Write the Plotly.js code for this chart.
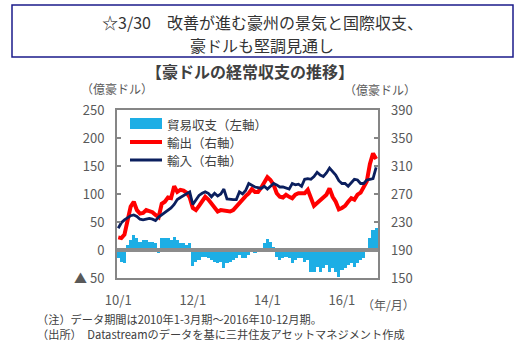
<!DOCTYPE html>
<html>
<head>
<meta charset="utf-8">
<script src="https://cdn.plot.ly/plotly-3.0.1.min.js"></script>
<style>
html,body{margin:0;padding:0;background:#fff;}
#chart{width:520px;height:350px;}
</style>
</head>
<body>
<div id="chart"></div>
<script>
// Monthly data, 2010/1 .. 2016/12 (84 points)
const monthCount = 84;
const monthIndex = Array.from({length: monthCount}, (_, i) => i);

// Trade balance (left axis, 億豪ドル)
const tradeBalance = [
  -15, -22, -24, 9, 18, 27, 21, 15, 18, 17, 15, 15,
  12, -6, 21, 21, 21, 18, 24, 18, 12, 12, 9, 12,
  -29, -21, -18, -12, -13, -15, -18, -21, -24, -21, -33, -24,
  -21, -18, -15, -9, -15, -15, -9, -3, -6, -3, 3, 12,
  19, 15, 6, -12, -18, -15, -12, -15, -24, -18, -15, -15,
  -21, -18, -39, -39, -30, -39, -33, -27, -39, -33, -39, -48,
  -36, -33, -27, -24, -30, -24, -18, -15, -3, 21, 36, 39
];

// Exports (right axis)
const exportsV = [
  208, 207, 212, 235, 252, 259, 247, 242, 243, 247, 246, 244,
  240, 237, 256, 259, 265, 264, 281, 273, 276, 275, 272, 265,
  250, 247, 253, 260, 266, 262, 257, 251, 245, 247, 246, 246,
  245, 247, 252, 257, 264, 267, 271, 277, 273, 273, 279, 287,
  294, 290, 283, 271, 266, 265, 269, 266, 264, 269, 271, 271,
  271, 276, 264, 253, 257, 261, 266, 269, 278, 266, 259, 248,
  250, 253, 259, 264, 262, 269, 272, 280, 288, 313, 328, 320
];

// Imports (right axis)
const importsV = [
  221, 229, 233, 236, 239, 240, 238, 234, 233, 234, 235, 234,
  232, 237, 240, 243, 246, 250, 255, 262, 265, 268, 270, 273,
  255, 262, 268, 271, 273, 271, 266, 271, 267, 270, 277, 263,
  262, 262, 262, 273, 270, 275, 285, 282, 280, 279, 278, 281,
  277, 281, 285, 283, 280, 280, 279, 277, 285, 283, 284, 281,
  291, 292, 291, 295, 301, 297, 295, 300, 307, 302, 297, 289,
  285, 285, 281, 286, 291, 290, 285, 285, 290, 291, 292, 308
];

const xTickVals = [0, 24, 48, 72];
const xTickText = ['10/1', '12/1', '14/1', '16/1'];
const leftTickVals = [-50, 0, 50, 100, 150, 200, 250];
const leftTickText = ['▲ 50', '0', '50', '100', '150', '200', '250'];
const rightTickVals = [150, 190, 230, 270, 310, 350, 390];

const seriesNames = ['貿易収支（左軸）', '輸出（右軸）', '輸入（右軸）'];

// colours
const cBar = '#1DAEE5', cRed = '#FF0000', cNavy = '#0B1F5E', cFrame = '#868686', cText = '#404040';

// plot area in pixels
const L = 117, R = 378, T = 110, B = 278;
const px = x => (x - L) / (R - L);
const py = y => (B - y) / (B - T);

const FONT = '"Noto Sans CJK JP", "Noto Sans", sans-serif';

const traces = [
  {type: 'bar', x: monthIndex, y: tradeBalance, name: seriesNames[0], yaxis: 'y',
   marker: {color: cBar, line: {width: 0}}, hoverinfo: 'skip'},
  {type: 'scatter', mode: 'lines', x: monthIndex, y: exportsV, name: seriesNames[1], yaxis: 'y2',
   line: {color: cRed, width: 4}},
  {type: 'scatter', mode: 'lines', x: monthIndex, y: importsV, name: seriesNames[2], yaxis: 'y2',
   line: {color: cNavy, width: 2.8}}
];

function ann(text, x, y, size, opts) {
  return Object.assign({text: text, x: px(x), y: py(y), xref: 'paper', yref: 'paper',
    showarrow: false, xanchor: 'center', yanchor: 'middle',
    font: {family: FONT, size: size, color: cText}}, opts || {});
}

const annotations = [
  ann('☆3/30　改善が進む豪州の景気と国際収支、', 262, 22, 16, {font: {family: FONT, size: 16, color: '#333'}}),
  ann('豪ドルも堅調見通し', 262, 45, 16, {font: {family: FONT, size: 16, color: '#333'}}),
  ann('<b>【豪ドルの経常収支の推移】</b>', 250, 71, 16),
  ann('（億豪ドル）', 117, 88, 12, {font: {family: FONT, size: 12, color: '#595959'}}),
  ann('（億豪ドル）', 380, 89, 12, {font: {family: FONT, size: 12, color: '#595959'}}),
  ann('（年/月）', 388, 304, 12, {font: {family: FONT, size: 12, color: '#595959'}}),
  ann('（注）データ期間は2010年1-3月期～2016年10-12月期。', 35, 319, 11.2, {xanchor: 'left'}),
  ann('（出所）　Datastreamのデータを基に三井住友アセットマネジメント作成', 35, 334, 11.2, {xanchor: 'left'}),
  ann(seriesNames[0], 165, 124, 12.5, {xanchor: 'left'}),
  ann(seriesNames[1], 165, 142, 12.5, {xanchor: 'left'}),
  ann(seriesNames[2], 165, 160, 12.5, {xanchor: 'left'})
];

const shapes = [
  // title box
  {type: 'rect', xref: 'paper', yref: 'paper', x0: px(12), x1: px(513), y0: py(5), y1: py(57),
   line: {color: '#1B1B8A', width: 1.5}, fillcolor: 'rgba(0,0,0,0)'},
  // zero line on left axis
  {type: 'line', xref: 'paper', yref: 'y', x0: 0, x1: 1, y0: 0, y1: 0,
   line: {color: '#8C8C8C', width: 4}, layer: 'above'},
  // legend symbols
  {type: 'rect', xref: 'paper', yref: 'paper', x0: px(130), x1: px(162), y0: py(118), y1: py(129),
   line: {width: 0}, fillcolor: cBar},
  {type: 'line', xref: 'paper', yref: 'paper', x0: px(130), x1: px(162), y0: py(142), y1: py(142),
   line: {color: cRed, width: 4}},
  {type: 'line', xref: 'paper', yref: 'paper', x0: px(130), x1: px(162), y0: py(160), y1: py(160),
   line: {color: cNavy, width: 3}}
];

const tickFont = {family: FONT, size: 13, color: '#595959'};

const layout = {
  width: 520, height: 350,
  margin: {l: L, r: 520 - R, t: T, b: 350 - B, pad: 0},
  paper_bgcolor: '#fff', plot_bgcolor: '#fff',
  showlegend: false,
  bargap: 0,
  xaxis: {range: [-0.4, 83.6], tickvals: xTickVals, ticktext: xTickText, ticks: '',
    showgrid: false, zeroline: false, showline: true, mirror: true, linecolor: cFrame, linewidth: 2,
    tickfont: tickFont, ticklabelstandoff: 9},
  yaxis: {range: [-50, 250], tickvals: leftTickVals, ticktext: leftTickText, ticks: 'inside',
    ticklen: 4, tickcolor: cFrame, tickwidth: 1.5, showgrid: false, zeroline: false,
    showline: true, mirror: true, linecolor: cFrame, linewidth: 2, tickfont: tickFont,
    ticklabelstandoff: 8},
  yaxis2: {range: [150, 390], tickvals: rightTickVals, overlaying: 'y', side: 'right', ticks: 'inside',
    ticklen: 4, tickcolor: cFrame, tickwidth: 1.5, showgrid: false, zeroline: false,
    showline: false, tickfont: tickFont, ticklabelstandoff: 12},
  annotations: annotations,
  shapes: shapes
};

Plotly.newPlot('chart', traces, layout, {staticPlot: true, displayModeBar: false});
</script>
</body>
</html>
